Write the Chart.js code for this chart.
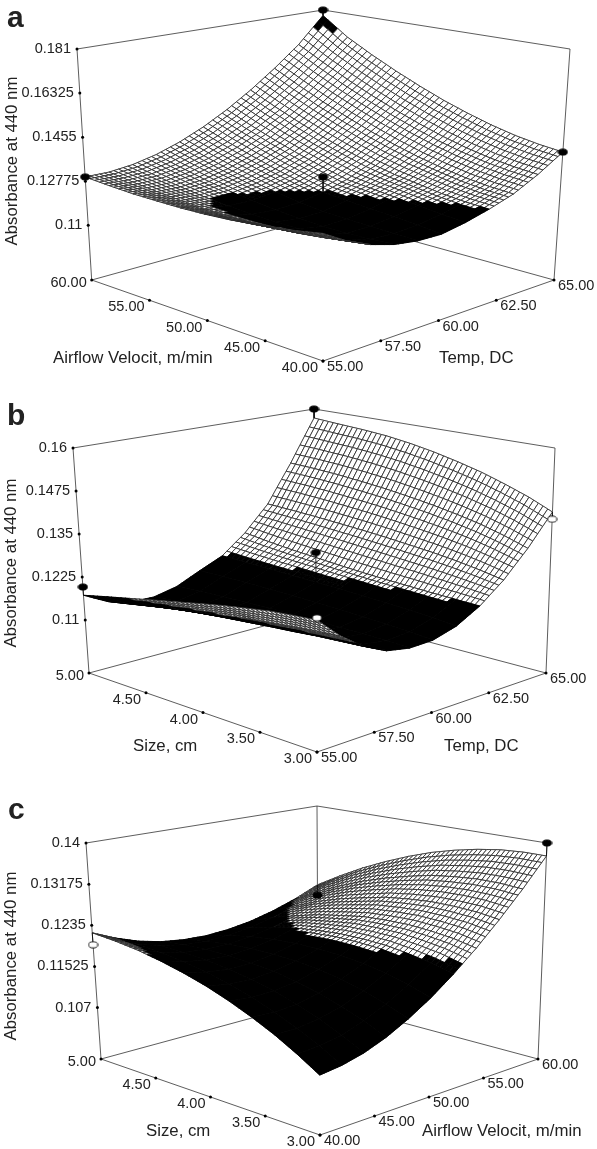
<!DOCTYPE html>
<html><head><meta charset="utf-8">
<style>html,body{margin:0;padding:0;background:#fff}canvas{position:absolute;left:0}</style>
<script src="https://cdn.jsdelivr.net/npm/chart.js@4"></script>
</head><body>
<script>
// ---- values (rows: right-hand axis low to high; columns: left-hand axis from the left corner to the front corner)
const surfaceA=[
[.1295,.1288,.1283,.1282,.1282,.1285,.1291,.1300,.1310,.1324,.1340],
[.1293,.1280,.1269,.1261,.1256,.1254,.1255,.1259,.1266,.1276,.1288],
[.1302,.1282,.1265,.1252,.1242,.1235,.1231,.1231,.1234,.1239,.1249],
[.1322,.1296,.1273,.1254,.1239,.1228,.1220,.1215,.1214,.1217,.1223],
[.1353,.1321,.1293,.1269,.1249,.1233,.1222,.1218,.1215,.1212,.1210],
[.1395,.1357,.1324,.1294,.1269,.1248,.1240,.1232,.1226,.1218,.1208],
[.1448,.1404,.1365,.1331,.1302,.1276,.1265,.1254,.1243,.1233,.1225],
[.1512,.1463,.1419,.1380,.1346,.1317,.1295,.1280,.1265,.1255,.1250],
[.1587,.1533,.1484,.1441,.1402,.1369,.1341,.1319,.1301,.1289,.1282],
[.1673,.1614,.1560,.1512,.1470,.1433,.1401,.1375,.1355,.1341,.1332],
[.1785,.1706,.1647,.1595,.1549,.1508,.1474,.1445,.1422,.1406,.1395]];
const surfaceB=[
[.1172,.1188,.1203,.1218,.1232,.1246,.1259,.1270,.1280,.1286,.1291],
[.1138,.1151,.1164,.1176,.1187,.1198,.1208,.1215,.1222,.1228,.1232],
[.1120,.1130,.1140,.1148,.1155,.1161,.1167,.1172,.1178,.1182,.1186],
[.1119,.1125,.1131,.1136,.1141,.1145,.1148,.1150,.1152,.1154,.1155],
[.1134,.1138,.1141,.1143,.1145,.1146,.1146,.1146,.1146,.1145,.1143],
[.1165,.1166,.1166,.1165,.1164,.1162,.1160,.1157,.1154,.1150,.1145],
[.1195,.1192,.1190,.1188,.1186,.1184,.1181,.1178,.1175,.1170,.1164],
[.1250,.1240,.1232,.1226,.1220,.1215,.1211,.1208,.1205,.1203,.1201],
[.1325,.1322,.1318,.1313,.1308,.1302,.1295,.1288,.1279,.1268,.1255],
[.1440,.1437,.1432,.1425,.1417,.1407,.1396,.1383,.1368,.1349,.1327],
[.1571,.1565,.1560,.1553,.1542,.1528,.1511,.1492,.1469,.1444,.1414]];
const surfaceC=[
[.1220,.1216,.1210,.1201,.1190,.1177,.1161,.1143,.1123,.1100,.1075],
[.1200,.1199,.1195,.1189,.1181,.1170,.1157,.1141,.1123,.1103,.1080],
[.1184,.1186,.1185,.1182,.1176,.1168,.1158,.1144,.1129,.1110,.1090],
[.1173,.1178,.1181,.1180,.1177,.1173,.1164,.1154,.1140,.1125,.1106],
[.1167,.1175,.1181,.1184,.1184,.1182,.1177,.1169,.1158,.1144,.1128],
[.1165,.1177,.1186,.1192,.1195,.1195,.1193,.1188,.1180,.1169,.1155],
[.1168,.1183,.1195,.1205,.1211,.1215,.1215,.1213,.1207,.1199,.1188],
[.1175,.1194,.1209,.1222,.1231,.1239,.1242,.1243,.1240,.1235,.1226],
[.1187,.1209,.1229,.1245,.1257,.1268,.1274,.1278,.1278,.1276,.1270],
[.1203,.1230,.1252,.1272,.1288,.1301,.1312,.1318,.1322,.1322,.1319],
[.1224,.1254,.1281,.1304,.1324,.1341,.1354,.1364,.1371,.1374,.1374]];

const zTicksA=[0.181,0.16325,0.1455,0.12775,0.11];
const zTicksB=[0.16,0.1475,0.135,0.1225,0.11];
const zTicksC=[0.14,0.13175,0.1235,0.11525,0.107];
const velocityDown=[60,55,50,45,40];
const velocityUp=[40,45,50,55,60];
const tempUp=[55,57.5,60,62.5,65];
const sizeDown=[5,4.5,4,3.5,3];

// design points: [right-axis value, left-axis value, absorbance, open marker?]
const pointsA=[[55,60,.1295,0],[65,60,.181,0],[65,40,.1395,0],[60,50,.1311,0]];
const pointsB=[[55,5,.1196,0],[65,5,.16,0],[65,3,.1393,1],[55,3,.1297,1],[60,4,.1308,0]];
const pointsC=[[40,5,.1196,1],[60,5,.1201,0],[60,3,.14,0]];

const yTitle='Absorbance at 440 nm';

// ---- view set-up: box corners on the page, text placement
const panels=[
 {letter:'a',top:0,height:385,rows:surfaceA,zTicks:zTicksA,zFloor:.088,zTop:.181,low:.125,high:.1735,
  leftTicks:velocityDown,rightTicks:tempUp,pts:pointsA,
  floor:{L:[91.7,280],F:[323,361],R:[554,280],B:[323,216]},roof:{L:[77,49],F:[323,103],R:[570,49],B:[323,10]},
  letterAt:[7,29],yTitleAt:[12,161],leftTitle:['Airflow Velocit, m/min',53,358],rightTitle:['Temp, DC',439,358]},
 {letter:'b',top:385,height:390,rows:surfaceB,zTicks:zTicksB,zFloor:.0946,zTop:.16,low:.12,high:9,
  leftTicks:sizeDown,rightTicks:tempUp,pts:pointsB,
  floor:{L:[89,673],F:[317,752],R:[546,673],B:[316,612]},roof:{L:[73,448],F:[317,502],R:[555,448],B:[314,409]},
  letterAt:[7,427],yTitleAt:[11,563],leftTitle:['Size, cm',133,746],rightTitle:['Temp, DC',444,746]},
 {letter:'c',top:775,height:374,rows:surfaceC,zTicks:zTicksC,zFloor:.0967,zTop:.14,low:.1205,high:9,
  leftTicks:sizeDown,rightTicks:velocityUp,pts:pointsC,
  floor:{L:[101,1059],F:[320,1135],R:[538,1059],B:[318,1000]},roof:{L:[86,843],F:[319,895],R:[547,843],B:[317,806]},
  letterAt:[8,821],yTitleAt:[11,956],leftTitle:['Size, cm',146,1131],rightTitle:['Airflow Velocit, m/min',422,1131]}
];

const INK='#2a2a2a', TXT='#222';
const SUB=5;

function mix(a,b,k){return a+(b-a)*k}
function bil(q,t,s,c){return (1-t)*(1-s)*q.L[c]+(1-t)*s*q.F[c]+t*s*q.R[c]+t*(1-s)*q.B[c]}
function project(p,t,s,z){
  const h=(z-p.zFloor)/(p.zTop-p.zFloor);
  return {x:mix(bil(p.floor,t,s,0),bil(p.roof,t,s,0),h),y:mix(bil(p.floor,t,s,1),bil(p.roof,t,s,1),h)};
}
function zAt(p,t,s){
  const n=p.rows.length-1,ft=Math.min(t*n,n-1e-6),fs=Math.min(s*n,n-1e-6),i=Math.floor(ft),j=Math.floor(fs),a=ft-i,b=fs-j,r=p.rows;
  return (1-a)*(1-b)*r[i][j]+(1-a)*b*r[i][j+1]+a*b*r[i+1][j+1]+a*(1-b)*r[i+1][j];
}
function ratio(arr,v){return (v-arr[0])/(arr[arr.length-1]-arr[0])}
function lineSet(pts,color,w){return {data:pts,showLine:true,borderColor:color,borderWidth:w,pointRadius:0,fill:false,clip:false,parsing:false}}
function ellipse(open){
  const c=document.createElement('canvas');c.width=11;c.height=8;const g=c.getContext('2d');
  g.beginPath();g.ellipse(5.5,4,4.6,3.1,0,0,Math.PI*2);g.fillStyle=open?'#fff':'#000';g.fill();g.lineWidth=.9;g.strokeStyle='#000';g.stroke();return c;
}

const texture={id:'texture',afterDatasetDraw(chart,args){
  const ds=chart.data.datasets[args.index],cell=ds.cell;if(!cell)return;
  const p=cell.panel,n=p.rows.length-1,X=chart.scales.x,Y=chart.scales.y,g=chart.ctx;
  g.save();
  for(let a=SUB-1;a>=0;a--)for(let b=0;b<SUB;b++){
    const ts=[(cell.i+a/SUB)/n,(cell.i+(a+1)/SUB)/n],ss=[(cell.j+b/SUB)/n,(cell.j+(b+1)/SUB)/n];
    const cs=[[0,0],[1,0],[1,1],[0,1]].map(([u,v])=>{const t=ts[u],s=ss[v],z=zAt(p,t,s),q=project(p,t,s,z);return {z,x:X.getPixelForValue(q.x),y:Y.getPixelForValue(q.y)}});
    const mean=(cs[0].z+cs[1].z+cs[2].z+cs[3].z)/4,dark=mean<p.low||mean>p.high;
    g.beginPath();g.moveTo(cs[0].x,cs[0].y);for(let k=1;k<4;k++)g.lineTo(cs[k].x,cs[k].y);g.closePath();
    g.fillStyle=dark?'#000':'#fff';g.fill();
    g.strokeStyle=dark?'#000':INK;g.lineWidth=dark?.8:.85;g.stroke();
  }
  g.restore();
}};

const labels={id:'labels',afterDraw(chart){
  const p=chart.options.plugins.labels.panel,X=chart.scales.x,Y=chart.scales.y,g=chart.ctx;
  const put=(txt,x,y,al,font)=>{g.font=font;g.textAlign=al;g.fillText(txt,X.getPixelForValue(x),Y.getPixelForValue(y))};
  g.save();g.fillStyle=TXT;g.textBaseline='middle';
  const tf='14.5px "Liberation Sans"',hf='16.8px "Liberation Sans"';
  p.zTicks.forEach(v=>{const q=project(p,0,0,v);put(String(v),q.x-6,q.y,'right',tf)});
  p.leftTicks.forEach((v,k)=>{const q=project(p,0,ratio(p.leftTicks,v),p.zFloor);put(v.toFixed(2),q.x-5,q.y+(k==0?3:7),'right',tf)});
  p.rightTicks.forEach(v=>{const q=project(p,ratio(p.rightTicks,v),1,p.zFloor);put(v.toFixed(2),q.x+4,q.y+6,'left',tf)});
  put(p.leftTitle[0],p.leftTitle[1],p.leftTitle[2],'left',hf);
  put(p.rightTitle[0],p.rightTitle[1],p.rightTitle[2],'left',hf);
  put(p.letter,p.letterAt[0],p.letterAt[1]-10,'left','bold 30px "Liberation Sans"');
  g.save();g.translate(X.getPixelForValue(p.yTitleAt[0]),Y.getPixelForValue(p.yTitleAt[1]));g.rotate(-Math.PI/2);
  g.font=hf;g.textAlign='center';g.fillText(yTitle,0,0);g.restore();
  g.restore();
}};

panels.forEach(p=>{
  const cv=document.createElement('canvas');cv.width=597;cv.height=p.height;cv.style.top=p.top+'px';cv.style.width='597px';cv.style.height=p.height+'px';
  document.body.appendChild(cv);
  const sets=[];
  // design points with their drop lines
  p.pts.forEach(d=>{
    const t=ratio(p.rightTicks,d[0]),s=ratio(p.leftTicks,d[1]);
    sets.push({data:[project(p,t,s,d[2])],pointStyle:ellipse(d[3]),pointRadius:5,showLine:false,clip:false,parsing:false});
    sets.push(lineSet([project(p,t,s,d[2]),project(p,t,s,zAt(p,t,s))],'#000',.8));
  });
  // tick dots
  const dots=[...p.zTicks.map(v=>project(p,0,0,v)),
    ...p.leftTicks.map(v=>project(p,0,ratio(p.leftTicks,v),p.zFloor)),
    ...p.rightTicks.map(v=>project(p,ratio(p.rightTicks,v),1,p.zFloor))];
  sets.push({data:dots,pointRadius:1.5,pointBackgroundColor:'#000',pointBorderWidth:0,showLine:false,clip:false,parsing:false});
  // front floor axes
  sets.push(lineSet([project(p,0,0,p.zFloor),project(p,0,1,p.zFloor)],'#333',.8));
  sets.push(lineSet([project(p,0,1,p.zFloor),project(p,1,1,p.zFloor)],'#333',.8));
  // surface cells, nearest first so the farthest are painted first
  const n=p.rows.length-1;
  for(let i=0;i<n;i++)for(let j=n-1;j>=0;j--){
    const c=[[i,j],[i+1,j],[i+1,j+1],[i,j+1],[i,j]];
    const pts=c.map(([a,b])=>project(p,a/n,b/n,p.rows[a][b]));
    const m=(p.rows[i][j]+p.rows[i+1][j]+p.rows[i+1][j+1]+p.rows[i][j+1])/4;
    sets.push({data:pts,showLine:true,borderColor:INK,borderWidth:.5,pointRadius:0,fill:'shape',
      backgroundColor:(m<p.low||m>p.high)?'#000':'#fff',clip:false,parsing:false,cell:{panel:p,i,j}});
  }
  // box edges behind the surface
  const e=(a,b)=>sets.push(lineSet([a,b],'#333',.8));
  const fl=(t,s)=>project(p,t,s,p.zFloor),tp=(t,s)=>project(p,t,s,p.zTop);
  e(fl(0,0),tp(0,0));e(fl(1,1),tp(1,1));e(fl(1,0),tp(1,0));
  e(tp(0,0),tp(1,0));e(tp(1,0),tp(1,1));
  e(fl(0,0),fl(1,0));e(fl(1,0),fl(1,1));
  new Chart(cv,{type:'scatter',data:{datasets:sets},plugins:[texture,labels],options:{
    responsive:false,animation:false,devicePixelRatio:1,events:[],
    layout:{padding:0,autoPadding:false},
    scales:{x:{type:'linear',display:false,min:0,max:597},y:{type:'linear',display:false,reverse:true,min:p.top,max:p.top+p.height}},
    plugins:{legend:{display:false},tooltip:{enabled:false},labels:{panel:p}}
  }});
});
</script>
</body></html>
